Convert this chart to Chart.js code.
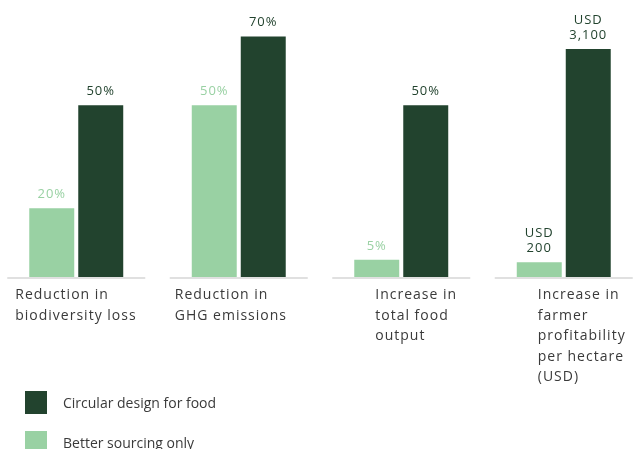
<!DOCTYPE html>
<html>
<head>
<meta charset="utf-8">
<script src="https://cdn.jsdelivr.net/npm/chart.js@4/dist/chart.umd.min.js"></script>
<style>
  html, body { margin: 0; padding: 0; background: #fff; overflow: hidden; }
  #page { position: relative; width: 636px; height: 449px; overflow: hidden; }
  #wrap { position: absolute; left: -5px; top: 0; width: 650px; height: 449px; }
  #legend { position: absolute; left: 25px; top: 391px; font-family: "Open Sans", sans-serif; font-size: 14px; color: #3a3a3a; }
  .item { display: flex; align-items: center; height: 23px; margin-bottom: 17px; }
  .swatch { width: 22px; height: 23px; margin-right: 16px; }
</style>
</head>
<body>
<div id="page">
  <div id="wrap"><canvas id="chart"></canvas></div>
  <div id="legend"></div>
</div>
<script>
// data
const categories = [
  ['Reduction in', 'biodiversity loss'],
  ['Reduction in', 'GHG emissions'],
  ['Increase in', 'total food', 'output'],
  ['Increase in', 'farmer', 'profitability', 'per hectare', '(USD)']
];
const betterSourcingPct = [20, 50, 5, null];
const circularDesignPct = [50, 70, 50, null];
const betterSourcingUsd = [null, null, null, 200];
const circularDesignUsd = [null, null, null, 3100];

// style
const lightGreen = '#99d1a3';
const darkGreen = '#22432e';
const textColor = '#3a3a3a';
const labelOffsets = [-61, -64, -26, -26];

const fmtPct = (v) => [v + '%'];
const fmtUsd = (v) => ['USD', v.toLocaleString('en-US')];

const barLabels = {
  id: 'barLabels',
  afterDatasetsDraw(chart) {
    const ctx = chart.ctx;
    const xScale = chart.scales.x;
    const bottom = chart.chartArea.bottom;

    ctx.save();
    // baseline per group
    ctx.strokeStyle = '#e0e0e0';
    ctx.lineWidth = 2;
    categories.forEach((c, i) => {
      const x = xScale.getPixelForValue(i);
      ctx.beginPath();
      ctx.moveTo(x - 69, bottom + 1);
      ctx.lineTo(x + 69, bottom + 1);
      ctx.stroke();
    });

    // value labels
    ctx.font = '13px "Open Sans", sans-serif';
    ctx.letterSpacing = '1px';
    ctx.textAlign = 'center';
    ctx.textBaseline = 'alphabetic';
    chart.data.datasets.forEach((ds, di) => {
      const meta = chart.getDatasetMeta(di);
      meta.data.forEach((bar, i) => {
        const v = ds.data[i];
        if (v === null) return;
        const lines = ds.fmt(v);
        ctx.fillStyle = ds.labelColor;
        lines.forEach((t, li) => {
          ctx.fillText(t, bar.x, bar.y - 10 - (lines.length - 1 - li) * 15);
        });
      });
    });

    // category labels
    ctx.font = '14px "Open Sans", sans-serif';
    ctx.textAlign = 'left';
    ctx.fillStyle = textColor;
    categories.forEach((lines, i) => {
      const x = xScale.getPixelForValue(i) + labelOffsets[i];
      lines.forEach((t, li) => {
        ctx.fillText(t, x, bottom + 22 + li * 20.5);
      });
    });
    ctx.restore();
  }
};

const chart = new Chart(document.getElementById('chart'), {
  type: 'bar',
  data: {
    labels: categories.map((c) => c.join(' ')),
    datasets: [
      {
        label: 'Better sourcing only',
        data: betterSourcingPct,
        backgroundColor: lightGreen,
        labelColor: lightGreen,
        fmt: fmtPct,
        yAxisID: 'y'
      },
      {
        label: 'Circular design for food',
        data: circularDesignPct,
        backgroundColor: darkGreen,
        labelColor: darkGreen,
        fmt: fmtPct,
        yAxisID: 'y'
      },
      {
        label: 'Better sourcing only (USD)',
        data: betterSourcingUsd,
        backgroundColor: lightGreen,
        labelColor: darkGreen,
        fmt: fmtUsd,
        yAxisID: 'y2'
      },
      {
        label: 'Circular design for food (USD)',
        data: circularDesignUsd,
        backgroundColor: darkGreen,
        labelColor: darkGreen,
        fmt: fmtUsd,
        yAxisID: 'y2'
      }
    ]
  },
  options: {
    responsive: true,
    maintainAspectRatio: false,
    animation: false,
    skipNull: true,
    barPercentage: 0.918,
    categoryPercentage: 0.603,
    layout: { padding: { top: 2, bottom: 172, left: 0, right: 0 } },
    plugins: {
      legend: { display: false },
      tooltip: { enabled: false }
    },
    scales: {
      x: { display: false, offset: true },
      y: { display: false, min: 0, max: 80 },
      y2: { display: false, min: 0, max: 3740 }
    }
  },
  plugins: [barLabels]
});

// legend: dark series first
const legend = document.getElementById('legend');
chart.data.datasets.slice(0, 2).reverse().forEach((ds) => {
  const item = document.createElement('div');
  item.className = 'item';
  const sw = document.createElement('span');
  sw.className = 'swatch';
  sw.style.background = ds.backgroundColor;
  const txt = document.createElement('span');
  txt.textContent = ds.label;
  item.appendChild(sw);
  item.appendChild(txt);
  legend.appendChild(item);
});
</script>
</body>
</html>
